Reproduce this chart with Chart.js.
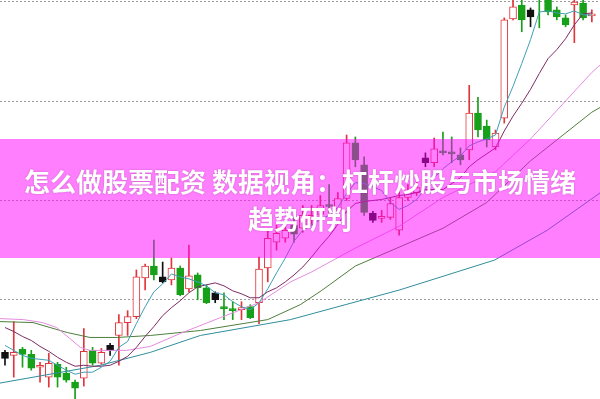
<!DOCTYPE html>
<html>
<head>
<meta charset="utf-8">
<script src="https://cdn.jsdelivr.net/npm/chart.js@4"></script>
<style>
  html, body { margin: 0; padding: 0; background: #fff; }
  #wrap { position: relative; width: 600px; height: 399px; overflow: hidden; }
  #banner {
    position: absolute; left: 0; top: 139px; width: 600px; height: 119px;
    background: rgba(255, 0, 255, 0.5);
    display: flex; flex-direction: column; justify-content: center; align-items: center;
    color: #fff; font-family: "Noto Sans CJK SC", sans-serif; font-weight: 700;
    font-size: 26px; line-height: 37px; text-align: center;
    text-shadow: 0 0 2px rgba(90, 0, 90, 0.35);
  }
</style>
</head>
<body>
<div id="wrap">
  <canvas id="kline"></canvas>
  <div id="banner">
    <div>怎么做股票配资 数据视角：杠杆炒股与市场情绪</div>
    <div>趋势研判</div>
  </div>
</div>
<script>
// K线数据 (读自图片，单位：元)
const opens  = [7.47,7.44,7.50,7.45,7.32,7.22,7.35,7.26,7.17,7.21,7.49,7.36,7.54,7.64,7.77,7.83,8.22,8.34,8.23,8.20,
                8.32,8.11,8.25,8.12,8.07,7.93,7.91,7.90,7.93,7.97,8.32,8.58,8.62,8.75,8.72,8.83,8.86,8.96,8.90,9.02,
                9.58,9.36,8.87,8.82,8.83,8.70,9.03,9.08,9.43,9.38,9.50,9.49,9.46,9.51,9.88,9.75,9.54,9.83,10.83,10.97,
                10.92,11.12,11.02,10.92,10.84,10.97,10.99,10.86];
const highs  = [7.49,7.78,7.52,7.49,7.37,7.46,7.37,7.32,7.19,7.71,7.52,7.51,7.56,7.85,7.89,8.30,8.36,8.60,8.38,8.42,
                8.34,8.55,8.27,8.15,8.08,8.07,7.98,7.98,7.95,8.43,8.70,8.75,8.78,8.85,8.95,8.95,9.05,9.16,9.08,9.66,
                9.64,9.44,8.89,8.90,9.03,9.14,9.16,9.18,9.48,9.63,9.69,9.64,9.53,10.16,10.04,9.81,9.71,10.84,11.07,11.07,
                10.94,11.17,11.07,10.95,10.87,11.07,11.02,10.92];
const lows   = [7.34,7.22,7.32,7.29,7.17,7.12,7.12,7.17,6.97,7.13,7.34,7.35,7.44,7.34,7.64,7.81,8.10,8.20,8.17,8.15,
                8.04,8.08,8.00,7.96,7.97,7.80,7.80,7.80,7.81,7.76,8.18,8.50,8.58,8.58,8.68,8.76,8.82,8.88,8.88,9.00,
                9.34,8.85,8.78,8.78,8.81,8.65,9.00,9.05,9.34,9.34,9.46,9.38,9.36,9.41,9.64,9.54,9.51,9.78,10.82,10.70,
                10.75,10.74,10.87,10.82,10.75,10.59,10.82,10.80];
const closes = [7.41,7.47,7.45,7.31,7.34,7.36,7.22,7.19,7.11,7.48,7.36,7.47,7.49,7.77,7.83,8.23,8.34,8.25,8.18,8.32,
                8.05,8.24,8.12,7.97,8.00,7.91,7.89,7.92,7.82,8.31,8.62,8.67,8.70,8.66,8.85,8.85,8.95,8.94,9.02,9.58,
                9.41,8.88,8.80,8.84,8.97,9.03,9.09,9.13,9.38,9.52,9.48,9.47,9.41,9.88,9.71,9.61,9.68,10.82,10.95,10.82,
                10.85,11.04,10.90,10.85,10.77,11.00,10.84,10.88];
// 黑色平盘标记
const blackBars = [0, 12, 18, 24, 42, 48, 60];

// 均线 MA5 / MA10 (逐日)
const ma5  = [7.54,7.49,7.44,7.41,7.40,7.39,7.34,7.29,7.25,7.27,7.27,7.32,7.38,7.52,7.58,7.76,7.93,8.08,8.16,8.26,
              8.23,8.21,8.18,8.14,8.07,8.05,7.98,7.93,7.90,7.97,8.11,8.27,8.42,8.59,8.70,8.75,8.81,8.85,8.93,9.07,
              9.18,9.17,9.14,9.10,8.98,8.91,8.95,9.01,9.12,9.23,9.32,9.39,9.45,9.55,9.59,9.62,9.66,9.94,10.15,10.38,
              10.62,10.90,10.91,10.89,10.88,10.91,10.87,10.87];
const ma10 = [7.72,7.68,7.63,7.59,7.53,7.48,7.42,7.37,7.33,7.34,7.33,7.33,7.34,7.38,7.43,7.52,7.63,7.73,7.84,7.92,
              7.99,8.07,8.13,8.15,8.17,8.14,8.09,8.06,8.02,8.02,8.08,8.12,8.18,8.25,8.33,8.43,8.54,8.64,8.76,8.89,
              8.97,8.99,9.00,9.01,9.03,9.05,9.06,9.08,9.11,9.11,9.11,9.17,9.23,9.34,9.41,9.47,9.53,9.70,9.85,9.98,
              10.12,10.28,10.43,10.52,10.63,10.77,10.88,10.89];
// 均线 MA20 / MA30 / MA60 ([交易日序号, 价格])
const ma20 = [[-0.6,7.81],[2.1,7.80],[4.3,7.77],[5.9,7.72],[7.4,7.61],[8.6,7.52],[9.7,7.49],[13.9,7.49],[16.6,7.53],
              [20,7.66],[24.6,7.82],[29,7.97],[32.6,8.18],[35,8.28],[40,8.52],[45,8.74],[50,9.03],[56,9.29],
              [60,9.62],[67,10.29],[68,10.37]];
const ma30 = [[-0.6,7.78],[3.2,7.77],[7.1,7.67],[9.7,7.62],[12.8,7.62],[16.6,7.64],[22.3,7.69],[30,7.80],
              [33.7,7.95],[36.1,8.09],[40,8.34],[50,8.72],[55,8.98],[60,9.40],[67,9.89],[68,9.94]];
const ma60 = [[-0.6,7.16],[10.9,7.34],[16.6,7.47],[22.3,7.64],[32.6,7.80],[45.1,8.10],[55.9,8.40],[61.9,8.70],
              [68,9.08]];
const gridPrices = [8, 9, 10, 11];

const RED = '#e0353c', GREEN = '#17a019', BLACK = '#111';
const days = opens.map((_, i) => i);

function kind(i) {
  if (blackBars.includes(i)) return 'black';
  return closes[i] >= opens[i] ? 'up' : 'down';
}
function strokeOf(i) {
  const k = kind(i);
  return k === 'black' ? BLACK : (k === 'up' ? RED : GREEN);
}
function fillOf(i) {
  const k = kind(i);
  return k === 'black' ? BLACK : (k === 'up' ? '#fff' : GREEN);
}
const toPts = arr => arr.map(p => ({ x: p[0], y: p[1] }));
const daily = arr => arr.map((v, i) => ({ x: i, y: v }));

function maLine(label, pts, color) {
  return {
    type: 'line', label, data: pts, borderColor: color, borderWidth: 1,
    pointRadius: 0, tension: 0, fill: false, order: 0
  };
}

new Chart(document.getElementById('kline'), {
  type: 'bar',
  data: {
    datasets: [
      maLine('MA5', daily(ma5), '#3f9fb4'),
      maLine('MA10', daily(ma10), '#7c2b63'),
      maLine('MA20', toPts(ma20), '#e48be0'),
      maLine('MA30', toPts(ma30), '#4d7f3c'),
      maLine('MA60', toPts(ma60), '#2f8e9c'),
      {
        label: 'body',
        data: days.map(i => ({ x: i, y: [opens[i], closes[i]] })),
        backgroundColor: ctx => fillOf(ctx.dataIndex),
        borderColor: ctx => strokeOf(ctx.dataIndex),
        borderWidth: 1, borderSkipped: false,
        barThickness: 7, grouped: false, order: 1
      },
      {
        label: 'wick',
        data: days.map(i => ({ x: i, y: [lows[i], highs[i]] })),
        backgroundColor: ctx => strokeOf(ctx.dataIndex),
        borderWidth: 0,
        barThickness: 1, grouped: false, order: 2
      }
    ]
  },
  options: {
    responsive: true,
    maintainAspectRatio: false,
    animation: false,
    layout: { padding: 0 },
    plugins: { legend: { display: false }, tooltip: { enabled: false }, title: { display: false } },
    scales: {
      x: { type: 'linear', offset: false, bounds: 'data', min: -0.57, max: 67.93, display: false },
      y: {
        min: 7.0, max: 11.02,
        afterBuildTicks: s => { s.ticks = gridPrices.map(v => ({ value: v })); },
        afterFit: s => { s.width = 0; },
        ticks: { display: false },
        grid: { color: '#9c9c9c', lineWidth: 1, drawTicks: false },
        border: { display: false, dash: [2, 2] }
      }
    }
  }
});
</script>
</body>
</html>
